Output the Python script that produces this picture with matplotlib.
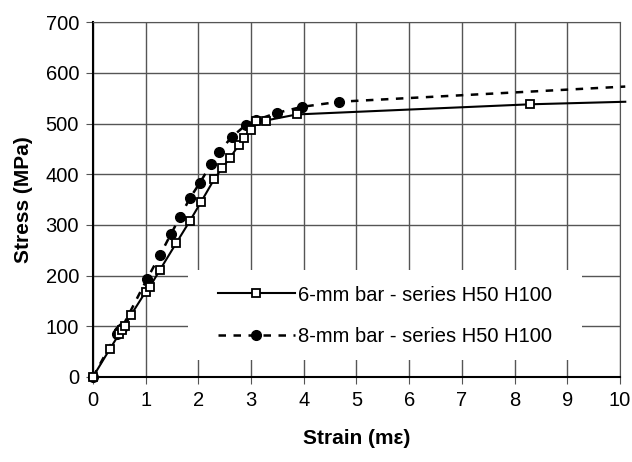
import matplotlib
matplotlib.use("Agg")
import matplotlib.pyplot as plt
from matplotlib.patches import Rectangle

plt.rcParams['font.family'] = ['Liberation Sans', 'DejaVu Sans']

# 6-mm bar - series H50 H100
strain_6 = [0, 0.32, 0.5, 0.55, 0.6, 0.72, 1.0, 1.08, 1.27, 1.58, 1.84, 2.05,
            2.3, 2.45, 2.6, 2.77, 2.86, 3.0, 3.1, 3.28, 3.87, 8.3, 10.1]
stress_6 = [0, 55, 85, 92, 100, 122, 168, 178, 211, 264, 308, 345,
            390, 412, 432, 458, 472, 487, 505, 506, 518, 538, 543]

# 8-mm bar - series H50 H100
strain_8 = [0, 0.45, 0.5, 0.55, 1.03, 1.27, 1.48, 1.65, 1.84, 2.03, 2.24,
            2.39, 2.64, 2.9, 3.1, 3.49, 3.97, 4.67, 10.1]
stress_8 = [0, 85, 90, 97, 194, 240, 282, 315, 353, 383, 420,
            444, 474, 497, 507, 521, 533, 543, 573]

fig = plt.figure(figsize=(6.32, 4.62), dpi=100)
ax = fig.add_axes([0.147, 0.184, 0.834, 0.768])

ax.plot(strain_6, stress_6, color='black', linestyle='-', linewidth=1.5,
        marker='s', markersize=6, markerfacecolor='white', markeredgecolor='black',
        markeredgewidth=1.3, markevery=list(range(len(strain_6) - 1)),
        label='6-mm bar - series H50 H100', zorder=4, clip_on=False)
ax.plot(strain_8, stress_8, color='black', linestyle=(0, (3, 3)), linewidth=1.8,
        marker='o', markersize=7, markerfacecolor='black', markeredgecolor='black',
        markevery=list(range(len(strain_8) - 1)),
        label='8-mm bar - series H50 H100', zorder=3, clip_on=False)

ax.set_xlim(0, 10)
ax.set_ylim(0, 700)
ax.set_xticks(range(0, 11))
ax.set_yticks(range(0, 701, 100))
ax.grid(True, color='#555555', linewidth=1.0)
ax.set_axisbelow(True)
for side in ['top', 'right']:
    ax.spines[side].set_color('#555555')
for side in ['left', 'bottom']:
    ax.spines[side].set_color('black')
    ax.spines[side].set_linewidth(1.5)
ax.tick_params(axis='both', labelsize=14.5, direction='out', length=5,
               color='#555555', pad=5)

ax.set_xlabel('Strain (m\u03b5)', fontsize=15, fontweight='bold', labelpad=14)
ax.set_ylabel('Stress (MPa)', fontsize=15, fontweight='bold', labelpad=9)

# white area behind the legend
ax.add_patch(Rectangle((0.18, 0.048), 0.748, 0.254, transform=ax.transAxes,
                       facecolor='white', edgecolor='none', zorder=2))
leg = ax.legend(loc='center', bbox_to_anchor=(0.554, 0.173),
                frameon=False, fontsize=14.5,
                handlelength=3.8, handletextpad=0.15, labelspacing=1.1)
leg.set_zorder(5)

fig.savefig('out.png', dpi=100)
